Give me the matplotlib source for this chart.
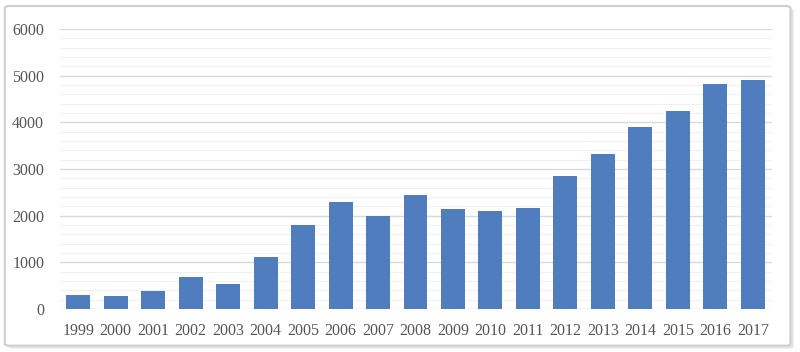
import matplotlib
matplotlib.use("Agg")
import matplotlib.pyplot as plt
from matplotlib.patches import FancyBboxPatch
from matplotlib.ticker import MultipleLocator

years = ["1999", "2000", "2001", "2002", "2003", "2004", "2005", "2006", "2007", "2008",
         "2009", "2010", "2011", "2012", "2013", "2014", "2015", "2016", "2017"]
values = [310, 285, 385, 680, 535, 1115, 1800, 2290, 1990, 2440,
          2140, 2100, 2165, 2850, 3320, 3900, 4240, 4820, 4900]

fig = plt.figure(figsize=(8, 3.52), dpi=100)
fig.patch.set_facecolor("white")

# outer frame with shadow
shadow = FancyBboxPatch((0.010, 0.010), 0.982, 0.965, boxstyle="round,pad=0,rounding_size=0.006",
                        transform=fig.transFigure, facecolor="#e4e4e4", edgecolor="none", zorder=-2)
frame = FancyBboxPatch((0.006, 0.018), 0.982, 0.965, boxstyle="round,pad=0,rounding_size=0.006",
                       transform=fig.transFigure, facecolor="white", edgecolor="#cfcfcf",
                       linewidth=1.5, zorder=-1)
fig.patches.extend([shadow, frame])

ax = fig.add_axes([59.5 / 800, 1 - 309 / 352, (771.5 - 59.5) / 800, (309 - 29) / 352])
ax.set_zorder(1)
ax.set_facecolor("none")
x = range(len(years))
ax.bar(x, values, width=0.64, color="#4F7DBE", zorder=3)
ax.set_xlim(-0.5, len(years) - 0.5)
ax.set_ylim(0, 6000)
ax.yaxis.set_major_locator(MultipleLocator(1000))
ax.yaxis.set_minor_locator(MultipleLocator(200))
ax.grid(which="major", axis="y", color="#d9d9d9", linewidth=1.0, zorder=1)
ax.grid(which="minor", axis="y", color="#f0f0f0", linewidth=0.8, zorder=1)
ax.set_axisbelow(True)
ax.set_xticks(list(x))
ax.set_xticklabels(years)
for s in ax.spines.values():
    s.set_visible(False)
ax.tick_params(which="both", length=0)
ax.tick_params(axis="y", pad=11)
ax.tick_params(axis="x", pad=10)
for lab in ax.get_xticklabels() + ax.get_yticklabels():
    lab.set_fontfamily("Liberation Serif")
    lab.set_fontsize(11.5)
    lab.set_color("#555555")

fig.savefig("out.png", dpi=100)
